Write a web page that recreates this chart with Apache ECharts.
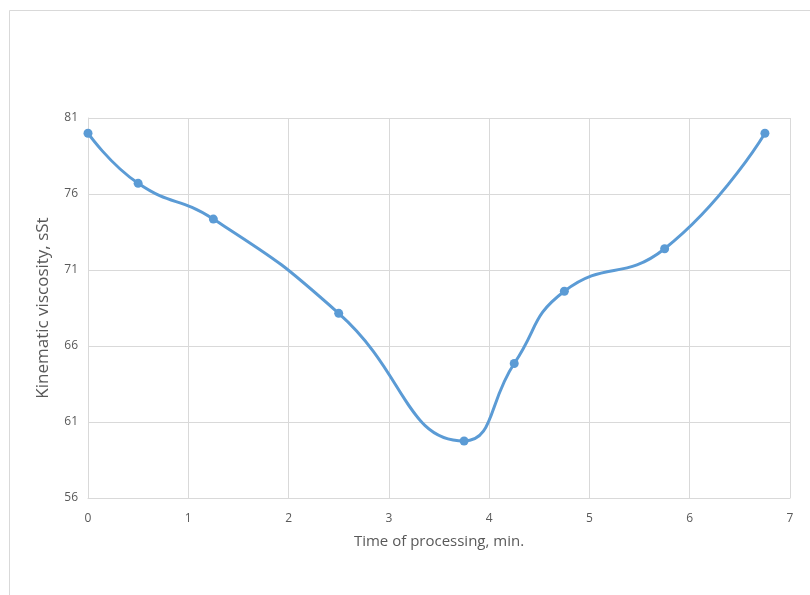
<!DOCTYPE html>
<html><head><meta charset="utf-8">
<script src="https://cdn.jsdelivr.net/npm/echarts@6/dist/echarts.min.js"></script>
<style>html,body{margin:0;padding:0;background:#fff;}#c{width:810px;height:595px;}</style>
</head><body><div id="c"></div>
<script>
const timeMin = [0, 0.5, 1.25, 2.5, 3.75, 4.25, 4.75, 5.75, 6.75];
const viscosity = [80, 76.7, 74.35, 68.15, 59.75, 64.85, 69.6, 72.4, 80];
const xTicks = [0, 1, 2, 3, 4, 5, 6, 7];
const yTicks = [56, 61, 66, 71, 76, 81];

const chart = echarts.init(document.getElementById('c'), null, {renderer: 'canvas'});
const font = 'Open Sans';
chart.setOption({
  animation: false,
  backgroundColor: '#fff',
  graphic: [{type: 'rect', shape: {x: 9.5, y: 10.5, width: 900, height: 700}, style: {fill: 'none', stroke: '#d9d9d9', lineWidth: 1}, silent: true}],
  grid: {left: 88, right: 20, top: 118, bottom: 97},
  xAxis: {
    type: 'value', min: xTicks[0], max: xTicks[xTicks.length - 1], interval: 1,
    name: 'Time of processing, min.', nameLocation: 'middle', nameGap: 36,
    nameTextStyle: {fontFamily: font, fontSize: 15, color: '#595959'},
    axisLine: {show: true, lineStyle: {color: '#d9d9d9'}},
    axisTick: {show: false},
    axisLabel: {fontFamily: font, fontSize: 12, color: '#595959', margin: 15},
    splitLine: {show: true, lineStyle: {color: '#d9d9d9'}}
  },
  yAxis: {
    type: 'value', min: yTicks[0], max: yTicks[yTicks.length - 1], interval: 5,
    name: 'Kinematic viscosity, sSt', nameLocation: 'middle', nameGap: 36,
    nameTextStyle: {fontFamily: font, fontSize: 17, color: '#595959'},
    axisLine: {show: true, lineStyle: {color: '#d9d9d9'}},
    axisTick: {show: false},
    axisLabel: {fontFamily: font, fontSize: 12, color: '#595959', margin: 10},
    splitLine: {show: true, lineStyle: {color: '#d9d9d9'}}
  },
  series: [{
    type: 'line',
    data: timeMin.map((t, i) => [t, viscosity[i]]),
    smooth: 0.5,
    symbol: 'circle', symbolSize: 9,
    lineStyle: {color: '#5b9bd5', width: 3},
    itemStyle: {color: '#5b9bd5'}
  }]
});
</script></body></html>
